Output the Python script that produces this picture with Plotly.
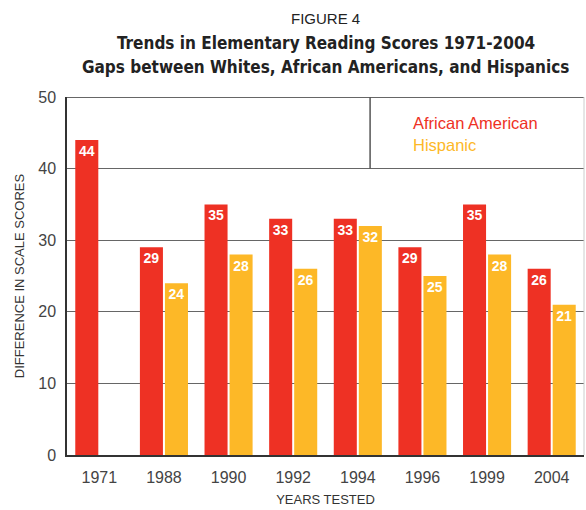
import plotly.graph_objects as go

# data
years = ["1971", "1988", "1990", "1992", "1994", "1996", "1999", "2004"]
african_american = [44, 29, 35, 33, 33, 29, 35, 26]
hispanic = [None, 24, 28, 26, 32, 25, 28, 21]

RED = "#EE3124"
GOLD = "#FDB827"
FONT = "Liberation Sans"

fig = go.Figure()
fig.add_trace(go.Bar(x=years, y=african_american, name="African American",
                     marker_color=RED, text=african_american))
fig.add_trace(go.Bar(x=years, y=hispanic, name="Hispanic",
                     marker_color=GOLD, text=hispanic))

fig.update_traces(textposition="inside", insidetextanchor="end",
                  textfont=dict(color="white", size=14, family=FONT),
                  texttemplate="<b>%{text}</b>", marker_line_width=0,
                  cliponaxis=False)

fig.update_layout(
    width=586, height=510,
    margin=dict(l=67, r=2, t=97, b=55),
    plot_bgcolor="white", paper_bgcolor="white",
    barmode="group", bargap=0.225, bargroupgap=0.08,
    showlegend=False,
    font=dict(family=FONT, color="#333"),
    uniformtext=dict(minsize=12, mode="show"),
)

fig.update_xaxes(range=[-0.5, 7.5], showgrid=False, showline=True,
                 linecolor="#333", linewidth=1.5, ticks="",
                 tickfont=dict(size=16, color="#444"), ticklabelstandoff=7,
                 title=dict(text="YEARS TESTED", font=dict(size=13, color="#333"), standoff=10))
fig.update_yaxes(range=[0, 50], dtick=10, showgrid=True, gridcolor="#666",
                 gridwidth=1.2, showline=True, linecolor="#333", linewidth=1.5,
                 zeroline=False, ticks="", layer="below traces",
                 tickfont=dict(size=16, color="#444"), ticklabelstandoff=6,
                 title=dict(text="DIFFERENCE IN SCALE SCORES",
                            font=dict(size=13, color="#333"), standoff=11))

# frame: top line, right light edge, legend box divider
fig.add_shape(type="line", xref="paper", yref="y", x0=0, x1=1, y0=50, y1=50,
              line=dict(color="#333", width=1.5))
fig.add_shape(type="line", xref="paper", yref="paper", x0=1, x1=1, y0=0, y1=1,
              line=dict(color="#ccc", width=1))
fig.add_shape(type="line", xref="x", yref="y", x0=4.19, x1=4.19, y0=40, y1=50,
              line=dict(color="#555", width=1.5))

# legend text
fig.add_annotation(xref="x", yref="y", x=4.86, y=46.37, text="African American",
                   showarrow=False, xanchor="left", xshift=-2, font=dict(size=16.5, color=RED))
fig.add_annotation(xref="x", yref="y", x=4.86, y=43.3, text="Hispanic",
                   showarrow=False, xanchor="left", xshift=-2, font=dict(size=16.5, color=GOLD))

# titles
fig.add_annotation(xref="paper", yref="paper", x=0.5, y=(510 - 18 - 55) / 358,
                   yanchor="middle", text="FIGURE 4", showarrow=False,
                   font=dict(size=15, color="#222"))
fig.add_annotation(xref="paper", yref="paper", x=0.5, y=(510 - 43 - 55) / 358,
                   yanchor="middle", text="<b>Trends in Elementary Reading Scores 1971-2004</b>",
                   showarrow=False, font=dict(size=17, color="#222", family="DejaVu Sans Condensed"))
fig.add_annotation(xref="paper", yref="paper", x=0.5, y=(510 - 67 - 55) / 358,
                   yanchor="middle", text="<b>Gaps between Whites, African Americans, and Hispanics</b>",
                   showarrow=False, font=dict(size=17, color="#222", family="DejaVu Sans Condensed"))

fig.write_html("out.html", config={"displayModeBar": False},
               post_script="document.body.style.margin='0';")
